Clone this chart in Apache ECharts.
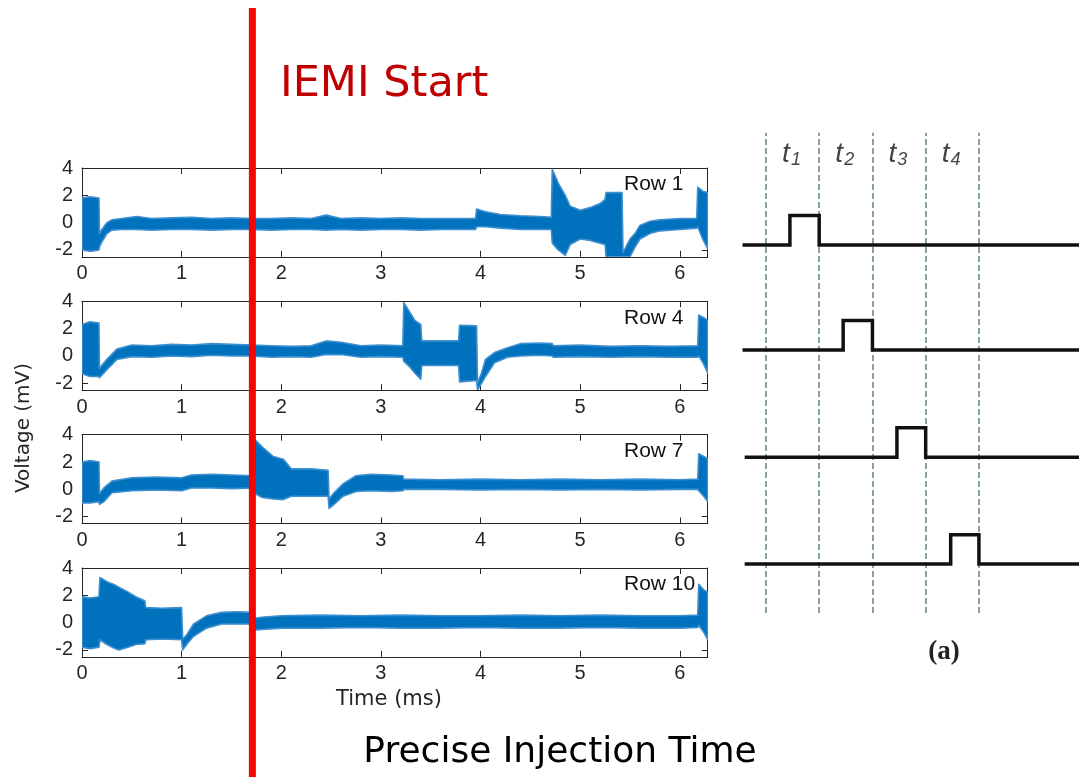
<!DOCTYPE html>
<html>
<head>
<meta charset="utf-8">
<script src="https://cdn.jsdelivr.net/npm/echarts@6/dist/echarts.min.js"></script>
<style>
  html, body { margin: 0; padding: 0; background: #fff; }
  #main { width: 1079px; height: 777px; }
</style>
</head>
<body>
<div id="main"></div>
<script>
// ---- data ----
const rowNames = ['Row 1', 'Row 4', 'Row 7', 'Row 10'];
const xTicks = [0, 1, 2, 3, 4, 5, 6];
const yTicks = [-2, 0, 2, 4];

// envelope of the noisy trace: time (ms), upper / lower edge (mV)
const row1Time = [0, 0.08, 0.17, 0.175, 0.2, 0.25, 0.3, 0.4, 0.55, 0.7,
    0.9, 1.1, 1.3, 1.5, 1.7, 1.9, 2.1, 2.3, 2.45, 2.6,
    2.8, 3.0, 3.2, 3.4, 3.6, 3.8, 3.95, 3.96, 4.05, 4.2,
    4.4, 4.6, 4.71, 4.72, 4.78, 4.85, 4.9, 5.0, 5.1, 5.2,
    5.25, 5.26, 5.34, 5.42, 5.43, 5.5, 5.55, 5.6, 5.7, 5.8,
    6.0, 6.17, 6.18, 6.23, 6.28];
const row1High = [1.8, 1.9, 1.8, -0.8, -0.5, 0.0, 0.2, 0.3, 0.45, 0.3,
    0.35, 0.4, 0.3, 0.35, 0.3, 0.3, 0.35, 0.3, 0.55, 0.3,
    0.35, 0.3, 0.35, 0.3, 0.3, 0.3, 0.3, 1.0, 0.8, 0.6,
    0.5, 0.45, 0.4, 3.9, 2.9, 2.0, 1.2, 0.9, 1.1, 1.4,
    1.7, 2.2, 2.2, 2.2, -2.2, -1.2, -0.8, -0.2, 0.1, 0.2,
    0.3, 0.3, 2.6, 2.3, 2.2];
const row1Low = [-2.0, -2.1, -2.0, -1.8, -1.4, -0.8, -0.55, -0.5, -0.5, -0.55,
    -0.5, -0.5, -0.55, -0.5, -0.5, -0.55, -0.5, -0.5, -0.55, -0.5,
    -0.55, -0.5, -0.5, -0.55, -0.5, -0.5, -0.5, -0.3, -0.3, -0.4,
    -0.5, -0.5, -0.5, -1.5, -2.0, -2.4, -1.6, -1.2, -1.3, -1.5,
    -1.6, -2.5, -2.5, -2.5, -2.5, -2.5, -1.8, -1.2, -0.8, -0.6,
    -0.5, -0.4, -0.3, -1.2, -1.9];

const row4Time = [0, 0.08, 0.17, 0.175, 0.25, 0.35, 0.5, 0.7, 0.9, 1.1,
    1.3, 1.5, 1.7, 1.9, 2.1, 2.3, 2.45, 2.6, 2.8, 3.0,
    3.22, 3.23, 3.29, 3.34, 3.4, 3.41, 3.6, 3.78, 3.79, 3.96,
    3.97, 4.01, 4.05, 4.14, 4.27, 4.4, 4.6, 4.72, 4.73, 5.0,
    5.3, 5.6, 5.9, 6.18, 6.19, 6.24, 6.28];
const row4High = [2.3, 2.5, 2.4, -0.9, -0.25, 0.5, 0.8, 0.75, 0.85, 0.8,
    0.9, 0.85, 0.8, 0.75, 0.7, 0.75, 1.1, 1.0, 0.75, 0.8,
    0.75, 3.9, 3.2, 2.6, 2.3, 1.1, 1.1, 1.1, 2.25, 2.2,
    -2.0, -1.25, -0.25, 0.25, 0.6, 0.9, 0.95, 0.9, 0.75, 0.8,
    0.7, 0.75, 0.7, 0.75, 3.0, 2.8, 2.6];
const row4Low = [-1.3, -1.5, -1.5, -1.6, -1.0, -0.25, -0.05, -0.1, 0.0, -0.05,
    0.05, 0.0, 0.0, -0.1, -0.05, -0.1, 0.1, 0.1, -0.1, -0.05,
    -0.1, -0.4, -0.8, -1.25, -1.7, -0.7, -0.7, -0.7, -1.9, -1.8,
    -2.5, -2.0, -1.5, -0.5, -0.1, 0.0, 0.05, 0.0, -0.1, -0.05,
    -0.1, -0.05, -0.1, -0.1, 0.0, -0.6, -1.25];

const row7Time = [0, 0.08, 0.17, 0.175, 0.22, 0.3, 0.5, 0.75, 1.0, 1.1,
    1.3, 1.5, 1.71, 1.72, 1.81, 1.92, 2.02, 2.1, 2.3, 2.47,
    2.48, 2.53, 2.62, 2.75, 2.9, 3.1, 3.22, 3.23, 3.6, 4.0,
    4.4, 4.8, 5.2, 5.6, 6.0, 6.18, 6.19, 6.24, 6.28];
const row7High = [2.0, 2.1, 2.0, -0.3, 0.1, 0.6, 0.85, 0.9, 0.85, 1.05,
    1.1, 1.05, 1.0, 3.75, 3.1, 2.4, 2.2, 1.5, 1.5, 1.4,
    -0.7, -0.25, 0.4, 1.0, 1.1, 1.05, 1.0, 0.75, 0.7, 0.75,
    0.7, 0.75, 0.7, 0.75, 0.7, 0.75, 2.6, 2.4, 2.25];
const row7Low = [-1.0, -1.0, -0.9, -1.1, -0.9, -0.25, -0.1, -0.05, -0.1, 0.1,
    0.1, 0.05, 0.1, -0.25, -0.6, -0.7, -0.75, -0.5, -0.5, -0.5,
    -1.4, -1.1, -0.5, -0.15, -0.1, -0.15, -0.1, 0.0, 0.0, -0.05,
    0.0, -0.05, 0.0, -0.05, 0.0, 0.0, -0.1, -0.5, -0.9];

const row10Time = [0, 0.08, 0.17, 0.18, 0.25, 0.33, 0.37, 0.46, 0.54, 0.63,
    0.64, 0.8, 1.0, 1.01, 1.05, 1.12, 1.25, 1.4, 1.55, 1.71,
    1.72, 1.8, 2.0, 2.4, 2.8, 3.2, 3.6, 4.0, 4.4, 4.8,
    5.2, 5.6, 6.0, 6.18, 6.19, 6.24, 6.28];
const row10High = [1.9, 1.8, 1.9, 3.3, 3.0, 2.75, 2.6, 2.25, 1.9, 1.6,
    1.1, 1.05, 1.1, -1.2, -0.9, -0.1, 0.5, 0.75, 0.8, 0.75,
    0.3, 0.4, 0.5, 0.55, 0.5, 0.55, 0.5, 0.5, 0.55, 0.5,
    0.55, 0.5, 0.5, 0.55, 2.8, 2.4, 2.25];
const row10Low = [-1.8, -1.9, -1.8, -1.25, -1.6, -1.9, -2.0, -1.8, -1.6, -1.55,
    -1.25, -1.2, -1.25, -2.0, -1.6, -1.0, -0.4, -0.1, -0.1, -0.1,
    -0.55, -0.5, -0.4, -0.4, -0.35, -0.4, -0.4, -0.35, -0.4, -0.4,
    -0.35, -0.4, -0.4, -0.35, -0.2, -0.7, -1.25];

const iemiTime = 1.71;

// timing diagram (a): slot boundaries, pulses and their levels
const slotEdges = [0, 1, 2, 3, 4];
const slotNames = ['1', '2', '3', '4'];
const pulseStart = [0.45, 1.45, 2.46, 3.47];
const pulseEnd = [1, 2, 3, 4];
const pulseBase = [12.26, 8.76, 5.19, 1.63];
const pulseHeight = 0.98;
const lineStart = [-0.44, -0.44, -0.4, -0.4];
const lineEnd = 5.88;

const rows = [
    [row1Time, row1High, row1Low],
    [row4Time, row4High, row4Low],
    [row7Time, row7High, row7Low],
    [row10Time, row10High, row10Low]
];

const blue = '#0072BD';
const ink = '#262626';
const tickFont = 'Liberation Sans, Arial, sans-serif';
const gridTops = [168, 301.3, 434.7, 568];

let chart = echarts.init(document.getElementById('main'));

// one polygon per trace: upper edge left->right, lower edge right->left
let renderBand = (params, api) => {
    if (params.dataIndexInside !== 0) {
        return null;
    }
    let n = params.dataInsideLength;
    let top = [], bottom = [];
    for (let k = 0; k < n; k++) {
        top.push(api.coord([api.value(0, k), api.value(1, k)]));
        bottom.push(api.coord([api.value(0, k), api.value(2, k)]));
    }
    return {
        type: 'polygon',
        shape: {points: top.concat(bottom.reverse())},
        style: {fill: blue, stroke: '#3d8fd0', lineWidth: 1.6, lineJoin: 'round'}
    };
};

let grids = [], xAxes = [], yAxes = [], series = [], titles = [];
gridTops.forEach((top, i) => {
    grids.push({left: 82, width: 625.7, top: top, height: 88.8});
    let lineStyle = {color: ink, width: 1};
    let tick = {inside: true, length: 6, lineStyle: lineStyle};
    xAxes.push({
        gridIndex: i, type: 'value', min: 0, max: 6.28, position: 'bottom',
        axisLine: {show: true, onZero: false, lineStyle: lineStyle},
        axisTick: Object.assign({customValues: xTicks}, tick),
        axisLabel: {customValues: xTicks, margin: 7, fontSize: 20, color: ink, fontFamily: tickFont},
        splitLine: {show: false}
    });
    xAxes.push({
        gridIndex: i, type: 'value', min: 0, max: 6.28, position: 'top',
        axisLine: {show: true, onZero: false, lineStyle: lineStyle},
        axisTick: Object.assign({customValues: xTicks}, tick),
        axisLabel: {show: false}, splitLine: {show: false}
    });
    yAxes.push({
        gridIndex: i, type: 'value', min: -2.5, max: 4, position: 'left',
        axisLine: {show: true, onZero: false, lineStyle: lineStyle},
        axisTick: Object.assign({customValues: yTicks}, tick),
        axisLabel: {customValues: yTicks, margin: 9, fontSize: 20, color: ink, fontFamily: tickFont},
        splitLine: {show: false}
    });
    yAxes.push({
        gridIndex: i, type: 'value', min: -2.5, max: 4, position: 'right',
        axisLine: {show: true, onZero: false, lineStyle: lineStyle},
        axisTick: Object.assign({customValues: yTicks}, tick),
        axisLabel: {show: false}, splitLine: {show: false}
    });
    series.push({
        type: 'custom',
        xAxisIndex: 2 * i, yAxisIndex: 2 * i,
        renderItem: renderBand,
        encode: {x: 0, y: [1, 2]},
        data: rows[i][0].map((t, k) => [t, rows[i][1][k], rows[i][2][k]]),
        clip: true, silent: true, z: 2
    });
    titles.push({
        text: rowNames[i], left: 619, top: top + 1,
        textStyle: {fontSize: 21, fontWeight: 'normal', color: '#111', fontFamily: tickFont}
    });
});

// right hand timing diagram
grids.push({left: 742, right: 0, top: 132.7, height: 480.3});
xAxes.push({gridIndex: 4, type: 'value', min: -0.45, max: 5.88, show: false});
yAxes.push({gridIndex: 4, type: 'value', min: 0, max: 16, show: false});

series.push({
    type: 'line', xAxisIndex: 8, yAxisIndex: 8, data: [], z: 1, silent: true,
    markLine: {
        symbol: 'none', silent: true, animation: false, z: 1,
        label: {show: false},
        lineStyle: {color: '#86a2a6', width: 2, type: [6, 3]},
        data: slotEdges.map(v => ({xAxis: v}))
    }
});
pulseStart.forEach((s, i) => {
    let b = pulseBase[i];
    series.push({
        type: 'line', xAxisIndex: 8, yAxisIndex: 8, z: 10, silent: true,
        symbol: 'none', animation: false,
        lineStyle: {color: '#111', width: 3.5, join: 'miter'},
        data: [[lineStart[i], b], [s, b], [s, b + pulseHeight],
            [pulseEnd[i], b + pulseHeight], [pulseEnd[i], b], [lineEnd, b]]
    });
});
series.push({
    type: 'scatter', xAxisIndex: 8, yAxisIndex: 8, symbolSize: 0, silent: true,
    data: slotNames.map((n, i) => [slotEdges[i] + 0.48, 15.3]),
    label: {
        show: true, position: 'inside',
        formatter: p => '{t|t}{s|' + slotNames[p.dataIndex] + '}',
        rich: {
            t: {fontSize: 28, fontStyle: 'italic', color: '#111', fontFamily: tickFont, lineHeight: 30},
            s: {fontSize: 18, fontStyle: 'italic', color: '#111', fontFamily: tickFont, lineHeight: 17, verticalAlign: 'bottom', padding: [0, 0, 0, 1]}
        }
    }
});

chart.setOption({
    animation: false,
    title: titles,
    grid: grids,
    xAxis: xAxes,
    yAxis: yAxes,
    series: series
});

// annotations around the plots
let iemiX = chart.convertToPixel({xAxisIndex: 0}, iemiTime);
chart.setOption({
    graphic: [
        {type: 'text', x: 24, y: 428, rotation: Math.PI / 2,
            style: {text: 'Voltage (mV)', fontSize: 20, fill: ink, fontFamily: 'DejaVu Sans', textAlign: 'center', textVerticalAlign: 'middle'}},
        {type: 'text', x: 389, y: 700,
            style: {text: 'Time (ms)', fontSize: 21, fill: ink, fontFamily: 'DejaVu Sans', textAlign: 'center', textVerticalAlign: 'middle'}},
        {type: 'rect', z: 100, shape: {x: iemiX - 3.5, y: 8, width: 7, height: 769}, style: {fill: '#ff0000'}},
        {type: 'text', z: 100, x: 280, y: 85,
            style: {text: 'IEMI Start', fontSize: 43, fill: '#c00000', fontFamily: 'DejaVu Sans', textVerticalAlign: 'middle'}},
        {type: 'text', z: 100, x: 560, y: 753,
            style: {text: 'Precise Injection Time', fontSize: 36, fill: '#000', fontFamily: 'DejaVu Sans', textAlign: 'center', textVerticalAlign: 'middle'}},
        {type: 'text', z: 100, x: 944, y: 652,
            style: {text: '(a)', fontSize: 27, fontWeight: 'bold', fill: '#222', fontFamily: 'Liberation Serif', textAlign: 'center', textVerticalAlign: 'middle'}}
    ]
});
</script>
</body>
</html>
